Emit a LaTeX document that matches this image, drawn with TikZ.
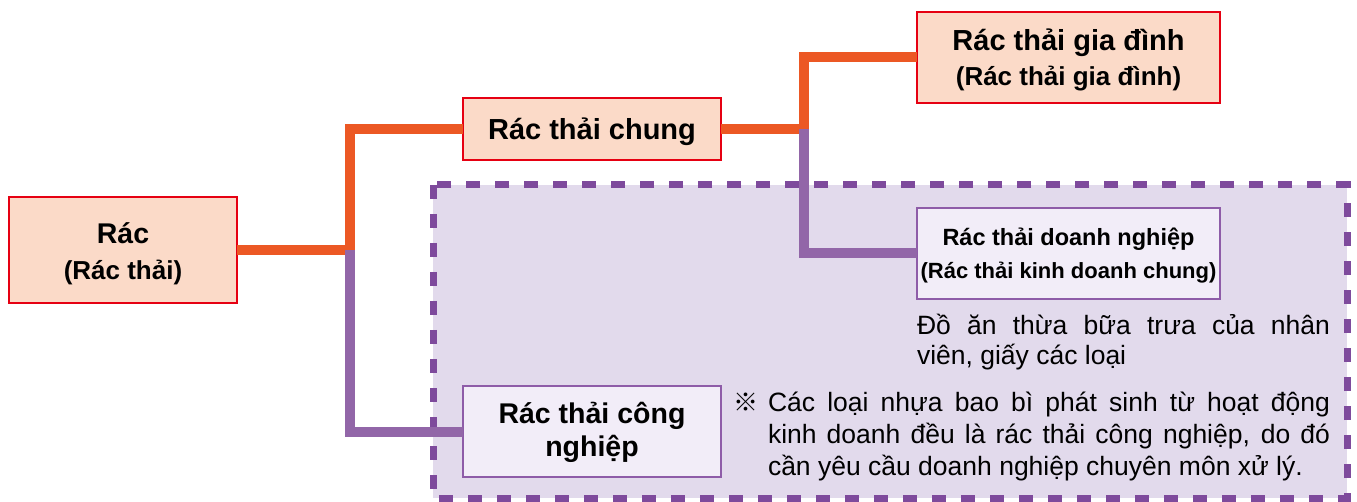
\documentclass[tikz,border=0pt]{standalone}
\usepackage{fontspec}
\setmainfont{Liberation Sans}
\newfontfamily\cjkfont{Noto Sans CJK JP}
\definecolor{orl}{RGB}{236,88,36}
\definecolor{pul}{RGB}{146,102,168}
\definecolor{redb}{RGB}{230,0,18}
\definecolor{redf}{RGB}{251,218,200}
\definecolor{purb}{RGB}{142,92,168}
\definecolor{purf}{RGB}{242,237,248}
\definecolor{regf}{RGB}{226,218,236}
\definecolor{dashc}{RGB}{126,74,156}
% two centred lines: size1, size2, skip, text1, text2, top kern
\newcommand\twolines[6]{\vbox{\kern#6pt\baselineskip=#3pt\lineskiplimit=-100pt\lineskip=0pt
  \halign{\hfil##\hfil\cr \fontsize{#1}{#3}\selectfont #4\cr \fontsize{#2}{#3}\selectfont #5\cr}}}
\begin{document}
\begin{tikzpicture}[x=1pt,y=-1pt,
  box/.style={draw, inner sep=0pt, outer sep=0pt, font=\bfseries},
  redbox/.style={box, draw=redb, fill=redf, line width=2.5pt},
  purbox/.style={box, draw=purb, fill=purf, line width=2pt},
  oline/.style={draw=orl, line width=10pt, line join=miter},
  pline/.style={draw=pul, line width=10pt, line join=miter},
  region/.style={draw=dashc, fill=regf, line width=7pt, dash pattern=on 14pt off 15pt},
  body/.style={inner sep=0pt, outer sep=0pt, font=\fontsize{26.5}{30}\selectfont}
]
\path[use as bounding box, fill=white] (0,0) rectangle (1357,502);
% dashed region
\draw[region] (433,185) rectangle (1347,498);

% junctions
\coordinate (j1) at (350,250);
\coordinate (j2) at (804,129);

% nodes
\node[redbox, minimum width=228pt, minimum height=106pt] (rac) at (123,250)
  {\twolines{28.5}{26}{36}{Rác}{(Rác thải)}{8}};
\node[redbox, minimum width=258pt, minimum height=62pt] (chung) at (592,129)
  {\vbox{\kern6pt\hbox{\fontsize{29}{34}\selectfont Rác thải chung}}};
\node[redbox, minimum width=303pt, minimum height=91pt] (gia) at (1068.5,57.5)
  {\twolines{29}{26}{35}{Rác thải gia đình}{(Rác thải gia đình)}{5}};
\node[purbox, minimum width=303pt, minimum height=91pt] (dn) at (1068.5,253.5)
  {\twolines{23.5}{22}{33}{Rác thải doanh nghiệp}{(Rác thải kinh doanh chung)}{5}};
\node[purbox, minimum width=258pt, minimum height=91pt] (cn) at (592,431.5)
  {\twolines{28.5}{28.5}{33}{Rác thải công}{nghiệp}{2}};

% connectors
\draw[oline] (rac.east) -- (j1) |- (chung.west);
\draw[oline] (chung.east) -- (j2) |- (gia.west);
\draw[pline] (j1) |- (cn.west);
\draw[pline] (j2) |- (dn.west);

% texts
\node[body, anchor=base west] (desc) at (917,335)
  {\vtop{\baselineskip=30pt\lineskiplimit=-100pt
   \hbox to 413pt{Đồ ăn thừa bữa trưa của nhân}
   \hbox{viên, giấy các loại}}};
\node[inner sep=0pt, anchor=base west, font=\cjkfont\fontsize{25}{28}\selectfont] (mark) at (733,411) {※};
\node[body, anchor=base west] (note) at (768,411)
  {\vtop{\baselineskip=32pt\lineskiplimit=-100pt
   \hbox to 562pt{Các loại nhựa bao bì phát sinh từ hoạt động}
   \hbox to 562pt{kinh doanh đều là rác thải công nghiệp, do đó}
   \hbox{cần yêu cầu doanh nghiệp chuyên môn xử lý.}}};
\end{tikzpicture}
\end{document}
